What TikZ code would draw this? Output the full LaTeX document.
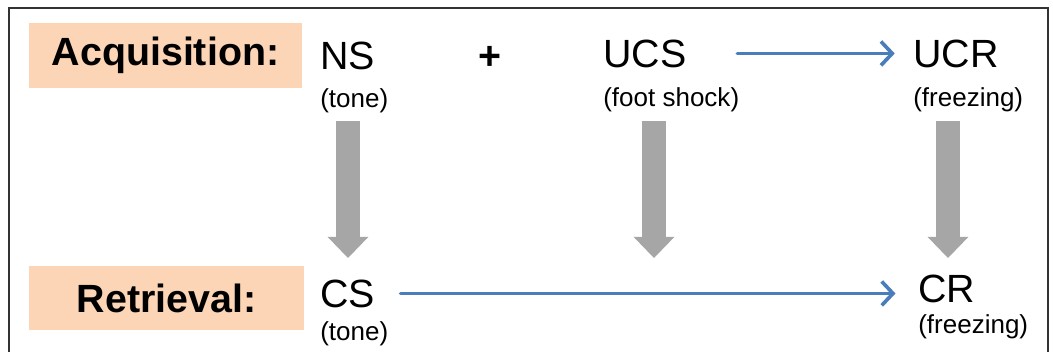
\documentclass[tikz,border=0pt]{standalone}
\usepackage{fontspec}
\setmainfont{Liberation Sans}
\usepackage{xcolor}
\usetikzlibrary{arrows.meta}
\usetikzlibrary{positioning}

\definecolor{peach}{HTML}{FBD5B5}
\definecolor{linkblue}{HTML}{4A7EBB}
\definecolor{shaftgray}{HTML}{A6A6A6}

\tikzset{
  stage/.style={fill=peach, inner sep=0pt, font=\bfseries\fontsize{28}{32}\selectfont},
  term/.style={anchor=base west, inner sep=0pt, font=\fontsize{28}{32}\selectfont},
  gloss/.style={anchor=base west, inner sep=0pt, font=\fontsize{18.5}{22}\selectfont},
  pairs/.style={draw=linkblue, line width=2.6pt, line cap=round,
    -{Straight Barb[length=8pt,width=17pt]}},
  down/.style={draw=shaftgray, line width=17pt,
    -{Triangle[length=15pt,width=29pt,line width=0pt]}}
}

\begin{document}
\begin{tikzpicture}[x=0.025cm,y=0.025cm]
  \useasboundingbox (0,0) rectangle (1053,351);
  \clip (0,0) rectangle (1053,351);
  % outer frame, bottom edge runs off the page
  \draw[line width=1.5pt, draw=black!80] (9,-20) rectangle (1048,343);

  % row labels
  \node[stage, minimum width=6.825cm, minimum height=1.625cm] (acq) at (165.5,295.5) {Acquisition:};
  \node[stage, minimum width=6.875cm, minimum height=1.6cm] (ret) at (166.5,53) {Retrieval:};

  % conditioning row
  \node[term] (ns) at (320,282) {NS};
  \node[gloss] (ns_g) at (320,244) {(tone)};
  \node[font=\bfseries\fontsize{28}{32}\selectfont] (plus) at (490,293) {+};
  \node[term] (ucs) at (603,284) {UCS};
  \node[gloss] (ucs_g) at (603,245) {(foot shock)};
  \node[term] (ucr) at (913,284) {UCR};
  \node[gloss] (ucr_g) at (913,245) {(freezing)};

  % test row
  \node[term] (cs) at (320,44) {CS};
  \node[gloss] (cs_g) at (320,11) {(tone)};
  \node[term] (cr) at (918,49) {CR};
  \node[gloss] (cr_g) at (918,18) {(freezing)};

  \draw[pairs, shorten <=36pt, shorten >=13pt] (ucs.east) -- (ucr.west);
  \draw[pairs, shorten <=18pt, shorten >=16pt] (cs.east) -- (cs.east -| cr.west);

  % gray block arrows between the rows
  \foreach \x/\n in {348/ns,654/ucs,948/ucr}{
    \coordinate (\n_top) at (\x,230);
    \coordinate (\n_tip) at (\x,93);
    \draw[down] (\n_top) -- (\n_tip);
  }
\end{tikzpicture}
\end{document}
